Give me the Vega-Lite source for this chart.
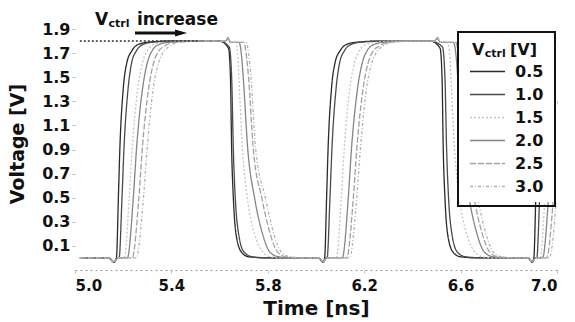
{
"$schema":"https://vega.github.io/schema/vega-lite/v6.json",
"width":482,"height":253,
"autosize":{"type":"none"},
"padding":{"left":75,"top":17,"right":18,"bottom":52},
"background":"white",
"config":{
 "view":{"stroke":null},
 "font":"DejaVu Sans",
 "axis":{"grid":false,"labelOverlap":false,"labelFont":"DejaVu Sans","labelFontWeight":"bold","labelColor":"#111","titleFont":"DejaVu Sans","titleFontWeight":"bold","titleColor":"#111","tickColor":"#bbbbbb","tickSize":3},
 "legend":{"orient":"none","legendX":383,"legendY":15,"strokeColor":"#111","strokeWidth":2,"padding":11,"titleFontSize":16,"titlePadding":4,"labelFont":"DejaVu Sans","labelFontWeight":"bold","labelFontSize":16,"labelColor":"#111","labelOffset":9,"symbolType":"stroke","symbolSize":1225,"clipHeight":17,"rowPadding":6,"symbolStrokeWidth":1.5}
},
"datasets":{"wave":[
{"s":"0.5","t":5.02,"v":0},{"s":"0.5","t":5.14,"v":0},{"s":"0.5","t":5.162,"v":-0.035},{"s":"0.5","t":5.172,"v":0},{"s":"0.5","t":5.18,"v":0.5},{"s":"0.5","t":5.186,"v":0.9},{"s":"0.5","t":5.2,"v":1.4},{"s":"0.5","t":5.215,"v":1.62},{"s":"0.5","t":5.236,"v":1.72},{"s":"0.5","t":5.26,"v":1.77},{"s":"0.5","t":5.3,"v":1.79},{"s":"0.5","t":5.4,"v":1.8},{"s":"0.5","t":5.6,"v":1.8},{"s":"0.5","t":5.637,"v":1.74},{"s":"0.5","t":5.645,"v":1.5},{"s":"0.5","t":5.65,"v":0.9},{"s":"0.5","t":5.657,"v":0.5},{"s":"0.5","t":5.668,"v":0.2},{"s":"0.5","t":5.69,"v":0.05},{"s":"0.5","t":5.72,"v":0.01},{"s":"0.5","t":5.8,"v":0},{"s":"0.5","t":6.01,"v":0},{"s":"0.5","t":6.03,"v":-0.035},{"s":"0.5","t":6.036,"v":0},{"s":"0.5","t":6.044,"v":0.5},{"s":"0.5","t":6.05,"v":0.9},{"s":"0.5","t":6.064,"v":1.4},{"s":"0.5","t":6.079,"v":1.62},{"s":"0.5","t":6.1,"v":1.72},{"s":"0.5","t":6.124,"v":1.77},{"s":"0.5","t":6.164,"v":1.79},{"s":"0.5","t":6.264,"v":1.8},{"s":"0.5","t":6.475,"v":1.8},{"s":"0.5","t":6.515,"v":1.74},{"s":"0.5","t":6.523,"v":1.5},{"s":"0.5","t":6.528,"v":0.9},{"s":"0.5","t":6.535,"v":0.5},{"s":"0.5","t":6.546,"v":0.2},{"s":"0.5","t":6.568,"v":0.05},{"s":"0.5","t":6.598,"v":0.01},{"s":"0.5","t":6.675,"v":0},{"s":"0.5","t":6.88,"v":0},{"s":"0.5","t":6.897,"v":-0.035},{"s":"0.5","t":6.904,"v":0},{"s":"0.5","t":6.912,"v":0.5},{"s":"0.5","t":6.918,"v":0.9},{"s":"0.5","t":6.932,"v":1.4},{"s":"0.5","t":6.947,"v":1.62},{"s":"0.5","t":6.968,"v":1.72},{"s":"0.5","t":6.992,"v":1.77},{"s":"0.5","t":7.0,"v":1.775},
{"s":"1.0","t":5.02,"v":0},{"s":"1.0","t":5.14,"v":0},{"s":"1.0","t":5.162,"v":-0.035},{"s":"1.0","t":5.175,"v":0},{"s":"1.0","t":5.183,"v":0},{"s":"1.0","t":5.195,"v":0.5},{"s":"1.0","t":5.203,"v":0.9},{"s":"1.0","t":5.22,"v":1.4},{"s":"1.0","t":5.235,"v":1.62},{"s":"1.0","t":5.255,"v":1.72},{"s":"1.0","t":5.28,"v":1.77},{"s":"1.0","t":5.32,"v":1.79},{"s":"1.0","t":5.415,"v":1.8},{"s":"1.0","t":5.6,"v":1.8},{"s":"1.0","t":5.64,"v":1.75},{"s":"1.0","t":5.65,"v":1.5},{"s":"1.0","t":5.657,"v":0.9},{"s":"1.0","t":5.665,"v":0.5},{"s":"1.0","t":5.679,"v":0.2},{"s":"1.0","t":5.701,"v":0.05},{"s":"1.0","t":5.735,"v":0.01},{"s":"1.0","t":5.815,"v":0},{"s":"1.0","t":6.01,"v":0},{"s":"1.0","t":6.03,"v":-0.035},{"s":"1.0","t":6.04,"v":0},{"s":"1.0","t":6.046,"v":0},{"s":"1.0","t":6.058,"v":0.5},{"s":"1.0","t":6.066,"v":0.9},{"s":"1.0","t":6.083,"v":1.4},{"s":"1.0","t":6.098,"v":1.62},{"s":"1.0","t":6.118,"v":1.72},{"s":"1.0","t":6.143,"v":1.77},{"s":"1.0","t":6.183,"v":1.79},{"s":"1.0","t":6.278,"v":1.8},{"s":"1.0","t":6.475,"v":1.8},{"s":"1.0","t":6.525,"v":1.75},{"s":"1.0","t":6.535,"v":1.5},{"s":"1.0","t":6.542,"v":0.9},{"s":"1.0","t":6.55,"v":0.5},{"s":"1.0","t":6.564,"v":0.2},{"s":"1.0","t":6.586,"v":0.05},{"s":"1.0","t":6.62,"v":0.01},{"s":"1.0","t":6.7,"v":0},{"s":"1.0","t":6.88,"v":0},{"s":"1.0","t":6.897,"v":-0.035},{"s":"1.0","t":6.908,"v":0},{"s":"1.0","t":6.916,"v":0},{"s":"1.0","t":6.928,"v":0.5},{"s":"1.0","t":6.936,"v":0.9},{"s":"1.0","t":6.953,"v":1.4},{"s":"1.0","t":6.968,"v":1.62},{"s":"1.0","t":6.988,"v":1.72},{"s":"1.0","t":7.0,"v":1.75},
{"s":"1.5","t":5.02,"v":0},{"s":"1.5","t":5.14,"v":0},{"s":"1.5","t":5.162,"v":-0.03},{"s":"1.5","t":5.178,"v":0},{"s":"1.5","t":5.205,"v":0},{"s":"1.5","t":5.225,"v":0.5},{"s":"1.5","t":5.237,"v":0.9},{"s":"1.5","t":5.26,"v":1.4},{"s":"1.5","t":5.28,"v":1.62},{"s":"1.5","t":5.3,"v":1.72},{"s":"1.5","t":5.325,"v":1.77},{"s":"1.5","t":5.365,"v":1.79},{"s":"1.5","t":5.455,"v":1.8},{"s":"1.5","t":5.6,"v":1.8},{"s":"1.5","t":5.625,"v":1.8},{"s":"1.5","t":5.635,"v":1.83},{"s":"1.5","t":5.645,"v":1.79},{"s":"1.5","t":5.665,"v":1.79},{"s":"1.5","t":5.675,"v":1.7},{"s":"1.5","t":5.68,"v":1.5},{"s":"1.5","t":5.695,"v":0.9},{"s":"1.5","t":5.715,"v":0.5},{"s":"1.5","t":5.745,"v":0.2},{"s":"1.5","t":5.775,"v":0.06},{"s":"1.5","t":5.81,"v":0.01},{"s":"1.5","t":5.875,"v":0},{"s":"1.5","t":6.01,"v":0},{"s":"1.5","t":6.03,"v":-0.03},{"s":"1.5","t":6.045,"v":0},{"s":"1.5","t":6.085,"v":0},{"s":"1.5","t":6.105,"v":0.5},{"s":"1.5","t":6.117,"v":0.9},{"s":"1.5","t":6.14,"v":1.4},{"s":"1.5","t":6.16,"v":1.62},{"s":"1.5","t":6.18,"v":1.72},{"s":"1.5","t":6.205,"v":1.77},{"s":"1.5","t":6.245,"v":1.79},{"s":"1.5","t":6.335,"v":1.8},{"s":"1.5","t":6.49,"v":1.8},{"s":"1.5","t":6.505,"v":1.83},{"s":"1.5","t":6.515,"v":1.79},{"s":"1.5","t":6.545,"v":1.79},{"s":"1.5","t":6.555,"v":1.7},{"s":"1.5","t":6.56,"v":1.5},{"s":"1.5","t":6.575,"v":0.9},{"s":"1.5","t":6.595,"v":0.5},{"s":"1.5","t":6.625,"v":0.2},{"s":"1.5","t":6.655,"v":0.06},{"s":"1.5","t":6.69,"v":0.01},{"s":"1.5","t":6.755,"v":0},{"s":"1.5","t":6.88,"v":0},{"s":"1.5","t":6.897,"v":-0.03},{"s":"1.5","t":6.912,"v":0},{"s":"1.5","t":6.93,"v":0},{"s":"1.5","t":6.95,"v":0.5},{"s":"1.5","t":6.962,"v":0.9},{"s":"1.5","t":6.985,"v":1.4},{"s":"1.5","t":7.0,"v":1.5},
{"s":"2.0","t":5.02,"v":0},{"s":"2.0","t":5.14,"v":0},{"s":"2.0","t":5.162,"v":-0.03},{"s":"2.0","t":5.178,"v":0},{"s":"2.0","t":5.217,"v":0},{"s":"2.0","t":5.242,"v":0.5},{"s":"2.0","t":5.255,"v":0.9},{"s":"2.0","t":5.28,"v":1.4},{"s":"2.0","t":5.3,"v":1.62},{"s":"2.0","t":5.32,"v":1.72},{"s":"2.0","t":5.347,"v":1.77},{"s":"2.0","t":5.387,"v":1.79},{"s":"2.0","t":5.482,"v":1.8},{"s":"2.0","t":5.6,"v":1.8},{"s":"2.0","t":5.625,"v":1.8},{"s":"2.0","t":5.635,"v":1.82},{"s":"2.0","t":5.645,"v":1.79},{"s":"2.0","t":5.68,"v":1.79},{"s":"2.0","t":5.69,"v":1.7},{"s":"2.0","t":5.698,"v":1.5},{"s":"2.0","t":5.717,"v":0.9},{"s":"2.0","t":5.745,"v":0.5},{"s":"2.0","t":5.778,"v":0.2},{"s":"2.0","t":5.808,"v":0.05},{"s":"2.0","t":5.845,"v":0.01},{"s":"2.0","t":5.91,"v":0},{"s":"2.0","t":6.01,"v":0},{"s":"2.0","t":6.03,"v":-0.03},{"s":"2.0","t":6.045,"v":0},{"s":"2.0","t":6.109,"v":0},{"s":"2.0","t":6.134,"v":0.5},{"s":"2.0","t":6.147,"v":0.9},{"s":"2.0","t":6.172,"v":1.4},{"s":"2.0","t":6.192,"v":1.62},{"s":"2.0","t":6.212,"v":1.72},{"s":"2.0","t":6.239,"v":1.77},{"s":"2.0","t":6.279,"v":1.79},{"s":"2.0","t":6.374,"v":1.8},{"s":"2.0","t":6.49,"v":1.8},{"s":"2.0","t":6.505,"v":1.82},{"s":"2.0","t":6.515,"v":1.79},{"s":"2.0","t":6.57,"v":1.79},{"s":"2.0","t":6.58,"v":1.7},{"s":"2.0","t":6.588,"v":1.5},{"s":"2.0","t":6.607,"v":0.9},{"s":"2.0","t":6.635,"v":0.5},{"s":"2.0","t":6.668,"v":0.2},{"s":"2.0","t":6.698,"v":0.05},{"s":"2.0","t":6.735,"v":0.01},{"s":"2.0","t":6.8,"v":0},{"s":"2.0","t":6.88,"v":0},{"s":"2.0","t":6.897,"v":-0.03},{"s":"2.0","t":6.912,"v":0},{"s":"2.0","t":6.94,"v":0},{"s":"2.0","t":6.965,"v":0.5},{"s":"2.0","t":6.978,"v":0.9},{"s":"2.0","t":7.0,"v":1.3},
{"s":"2.5","t":5.02,"v":0},{"s":"2.5","t":5.14,"v":0},{"s":"2.5","t":5.162,"v":-0.03},{"s":"2.5","t":5.178,"v":0},{"s":"2.5","t":5.237,"v":0},{"s":"2.5","t":5.265,"v":0.5},{"s":"2.5","t":5.279,"v":0.9},{"s":"2.5","t":5.305,"v":1.4},{"s":"2.5","t":5.325,"v":1.61},{"s":"2.5","t":5.345,"v":1.71},{"s":"2.5","t":5.373,"v":1.76},{"s":"2.5","t":5.415,"v":1.79},{"s":"2.5","t":5.515,"v":1.8},{"s":"2.5","t":5.6,"v":1.8},{"s":"2.5","t":5.625,"v":1.8},{"s":"2.5","t":5.635,"v":1.83},{"s":"2.5","t":5.645,"v":1.79},{"s":"2.5","t":5.7,"v":1.79},{"s":"2.5","t":5.71,"v":1.7},{"s":"2.5","t":5.72,"v":1.5},{"s":"2.5","t":5.74,"v":0.9},{"s":"2.5","t":5.775,"v":0.5},{"s":"2.5","t":5.81,"v":0.2},{"s":"2.5","t":5.84,"v":0.05},{"s":"2.5","t":5.875,"v":0.01},{"s":"2.5","t":5.945,"v":0},{"s":"2.5","t":6.01,"v":0},{"s":"2.5","t":6.03,"v":-0.03},{"s":"2.5","t":6.045,"v":0},{"s":"2.5","t":6.127,"v":0},{"s":"2.5","t":6.155,"v":0.5},{"s":"2.5","t":6.169,"v":0.9},{"s":"2.5","t":6.195,"v":1.4},{"s":"2.5","t":6.215,"v":1.61},{"s":"2.5","t":6.235,"v":1.71},{"s":"2.5","t":6.263,"v":1.76},{"s":"2.5","t":6.305,"v":1.79},{"s":"2.5","t":6.405,"v":1.8},{"s":"2.5","t":6.49,"v":1.8},{"s":"2.5","t":6.505,"v":1.83},{"s":"2.5","t":6.515,"v":1.79},{"s":"2.5","t":6.58,"v":1.79},{"s":"2.5","t":6.59,"v":1.7},{"s":"2.5","t":6.6,"v":1.5},{"s":"2.5","t":6.62,"v":0.9},{"s":"2.5","t":6.655,"v":0.5},{"s":"2.5","t":6.69,"v":0.2},{"s":"2.5","t":6.72,"v":0.05},{"s":"2.5","t":6.755,"v":0.01},{"s":"2.5","t":6.825,"v":0},{"s":"2.5","t":6.88,"v":0},{"s":"2.5","t":6.897,"v":-0.03},{"s":"2.5","t":6.912,"v":0},{"s":"2.5","t":6.957,"v":0},{"s":"2.5","t":6.985,"v":0.5},{"s":"2.5","t":6.999,"v":0.9},
{"s":"3.0","t":5.02,"v":0},{"s":"3.0","t":5.14,"v":0},{"s":"3.0","t":5.162,"v":-0.03},{"s":"3.0","t":5.178,"v":0},{"s":"3.0","t":5.254,"v":0},{"s":"3.0","t":5.284,"v":0.5},{"s":"3.0","t":5.299,"v":0.9},{"s":"3.0","t":5.324,"v":1.4},{"s":"3.0","t":5.344,"v":1.6},{"s":"3.0","t":5.364,"v":1.7},{"s":"3.0","t":5.394,"v":1.76},{"s":"3.0","t":5.434,"v":1.79},{"s":"3.0","t":5.534,"v":1.8},{"s":"3.0","t":5.6,"v":1.8},{"s":"3.0","t":5.625,"v":1.8},{"s":"3.0","t":5.635,"v":1.82},{"s":"3.0","t":5.645,"v":1.79},{"s":"3.0","t":5.71,"v":1.79},{"s":"3.0","t":5.72,"v":1.7},{"s":"3.0","t":5.73,"v":1.5},{"s":"3.0","t":5.75,"v":0.9},{"s":"3.0","t":5.79,"v":0.5},{"s":"3.0","t":5.825,"v":0.2},{"s":"3.0","t":5.855,"v":0.05},{"s":"3.0","t":5.89,"v":0.01},{"s":"3.0","t":5.96,"v":0},{"s":"3.0","t":6.01,"v":0},{"s":"3.0","t":6.03,"v":-0.03},{"s":"3.0","t":6.045,"v":0},{"s":"3.0","t":6.139,"v":0},{"s":"3.0","t":6.169,"v":0.5},{"s":"3.0","t":6.184,"v":0.9},{"s":"3.0","t":6.209,"v":1.4},{"s":"3.0","t":6.229,"v":1.6},{"s":"3.0","t":6.249,"v":1.7},{"s":"3.0","t":6.279,"v":1.76},{"s":"3.0","t":6.319,"v":1.79},{"s":"3.0","t":6.419,"v":1.8},{"s":"3.0","t":6.49,"v":1.8},{"s":"3.0","t":6.505,"v":1.82},{"s":"3.0","t":6.515,"v":1.79},{"s":"3.0","t":6.59,"v":1.79},{"s":"3.0","t":6.6,"v":1.7},{"s":"3.0","t":6.61,"v":1.5},{"s":"3.0","t":6.63,"v":0.9},{"s":"3.0","t":6.67,"v":0.5},{"s":"3.0","t":6.705,"v":0.2},{"s":"3.0","t":6.735,"v":0.05},{"s":"3.0","t":6.77,"v":0.01},{"s":"3.0","t":6.84,"v":0},{"s":"3.0","t":6.88,"v":0},{"s":"3.0","t":6.897,"v":-0.03},{"s":"3.0","t":6.912,"v":0},{"s":"3.0","t":6.968,"v":0},{"s":"3.0","t":6.998,"v":0.5}
]},
"layer":[
 {"data":{"name":"wave"},
  "mark":{"type":"line","interpolate":"monotone","strokeWidth":1.3},
  "encoding":{
   "x":{"field":"t","type":"quantitative","scale":{"domain":[5.0,7.0],"nice":false,"zero":false},
        "axis":{"title":"Time [ns]","values":[5.0,5.4,5.8,6.2,6.6,7.0],"tickCount":12,"format":".1f","labelOverlap":false,"labelFontSize":15,"labelPadding":5,"titleFontSize":20,"titlePadding":5,"domainColor":"#999999","domainDash":[2,3],"domainWidth":1}},
   "y":{"field":"v","type":"quantitative","scale":{"domain":[-0.1,2.0],"nice":false,"zero":false},
        "axis":{"title":"Voltage [V]","values":[0.1,0.3,0.5,0.7,0.9,1.1,1.3,1.5,1.7,1.9],"tickCount":20,"format":".1f","labelOverlap":false,"labelBound":false,"labelFlush":false,"labelFontSize":16,"labelPadding":2,"titleFontSize":19,"titlePadding":14,"domain":false}},
   "color":{"field":"s","type":"nominal","scale":{"domain":["0.5","1.0","1.5","2.0","2.5","3.0"],"range":["#2a2a2a","#4a4a4a","#c4c4c4","#858585","#a2a2a2","#b3b3b3"]},"legend":{"title":" "}},
   "strokeDash":{"field":"s","type":"nominal","scale":{"domain":["0.5","1.0","1.5","2.0","2.5","3.0"],"range":[[1,0],[1,0],[2,2],[1,0],[6,2],[3,2,1,2]]},"legend":{"title":" "}}
  }},
 {"data":{"values":[{}]},"mark":{"type":"rect","color":"white"},
  "encoding":{"x":{"datum":6.589},"x2":{"datum":7.0},"y":{"datum":1.875},"y2":{"datum":0.464}}},
 {"data":{"values":[{}]},"mark":{"type":"rule","color":"#333333","strokeDash":[2,2],"strokeWidth":1.5},
  "encoding":{"x":{"datum":5.02},"x2":{"datum":5.52},"y":{"datum":1.8}}},
 {"data":{"values":[{}]},"mark":{"type":"rule","color":"#111111","strokeWidth":3},
  "encoding":{"x":{"datum":5.249},"x2":{"datum":5.44},"y":{"datum":1.867}}},
 {"data":{"values":[{}]},"mark":{"type":"point","shape":"M-1,-0.6L1,0L-1,0.6Z","size":144,"filled":true,"color":"#111111","opacity":1},
  "encoding":{"x":{"datum":5.44},"y":{"datum":1.867}}},
 {"data":{"values":[{}]},"mark":{"type":"text","text":"V","align":"left","baseline":"alphabetic","font":"DejaVu Sans","fontWeight":"bold","fontSize":17,"color":"#111111"},
  "encoding":{"x":{"datum":5.083},"y":{"datum":1.933}}},
 {"data":{"values":[{}]},"mark":{"type":"text","text":"ctrl","align":"left","baseline":"alphabetic","font":"DejaVu Sans","fontWeight":"bold","fontSize":11,"color":"#111111"},
  "encoding":{"x":{"datum":5.139},"y":{"datum":1.917}}},
 {"data":{"values":[{}]},"mark":{"type":"text","text":"increase","align":"left","baseline":"alphabetic","font":"DejaVu Sans","fontWeight":"bold","fontSize":17,"color":"#111111"},
  "encoding":{"x":{"datum":5.257},"y":{"datum":1.933}}},
 {"data":{"values":[{}]},"mark":{"type":"text","text":"V","align":"left","baseline":"alphabetic","font":"DejaVu Sans","fontWeight":"bold","fontSize":16,"color":"#111111"},
  "encoding":{"x":{"datum":6.647},"y":{"datum":1.684}}},
 {"data":{"values":[{}]},"mark":{"type":"text","text":"ctrl","align":"left","baseline":"alphabetic","font":"DejaVu Sans","fontWeight":"bold","fontSize":11,"color":"#111111"},
  "encoding":{"x":{"datum":6.700},"y":{"datum":1.668}}},
 {"data":{"values":[{}]},"mark":{"type":"text","text":"[V]","align":"left","baseline":"alphabetic","font":"DejaVu Sans","fontWeight":"bold","fontSize":16,"color":"#111111"},
  "encoding":{"x":{"datum":6.805},"y":{"datum":1.684}}}
]
}
